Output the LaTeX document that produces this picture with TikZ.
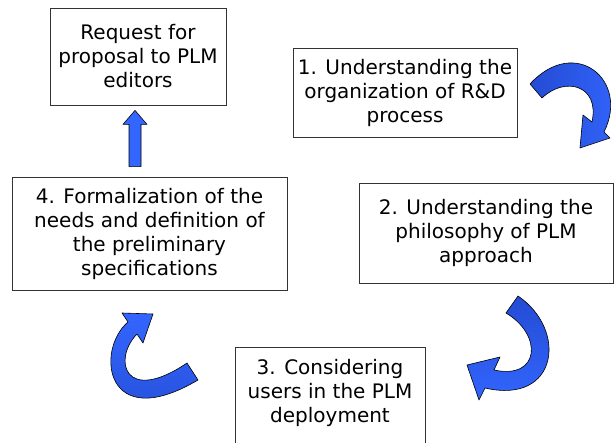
\documentclass[tikz,border=0pt]{standalone}
\usepackage{fontspec}
\newfontfamily\diagfont{DejaVu Sans}
\definecolor{arrowblue}{RGB}{51,102,255}
\definecolor{arrowdark}{RGB}{36,76,212}
\begin{document}
\begin{tikzpicture}[x=1pt,y=-1pt,
	box/.style={draw=black!80,line width=0.8pt,align=center,inner sep=0pt,
		font=\diagfont\fontsize{20}{24}\selectfont},
	bluearrow/.style={draw=black,line width=0.6pt,line join=round}]
	\useasboundingbox (0,0) rectangle (614,443);
	% the five boxes
	\node[box,minimum width=176,minimum height=97] (rfp) at (138,56.5)
		{Request for\\proposal to PLM\\editors};
	\node[box,minimum width=224,minimum height=89] (und) at (405,92.5)
		{1. Understanding the\\organization of R\&D\\process};
	\node[box,minimum width=254,minimum height=100] (phil) at (486,233)
		{2. Understanding the\\philosophy of PLM\\approach};
	\node[box,anchor=north,inner ysep=12pt] (cons) at (330,347)
		{\parbox[t][100pt][t]{190pt}{\centering 3. Considering\\users in the PLM\\deployment}};
	\node[box,minimum width=275,minimum height=113] (spec) at (149.5,233.5)
		{4. Formalization of the\\needs and definition of\\the preliminary\\specifications};
	% straight arrow up, from spec to rfp
	\coordinate (upbot) at ([shift={(-14.5,-10)}]spec.north);
	\coordinate (uptop) at ([shift={(-3,5)}]rfp.south);
	\draw[bluearrow,fill=arrowblue] ([shift={(-6,0)}]upbot)
		-- ([shift={(-6,14)}]uptop) -- ([shift={(-12,14)}]uptop) -- (uptop)
		-- ([shift={(12,14)}]uptop) -- ([shift={(6,14)}]uptop)
		-- ([shift={(6,0)}]upbot) -- cycle;
	% curved arrows
	\draw[bluearrow,left color=arrowdark,right color=arrowblue]
		(530,84) .. controls (575,35) and (630,80) .. (604,132) -- (610,138)
		-- (580,148) -- (583,115) -- (592,122)
		.. controls (600,85) and (565,76) .. (542,98) -- cycle;
	\draw[bluearrow,top color=arrowdark,bottom color=arrowblue]
		(518,296) .. controls (568,330) and (558,405) .. (485,388) -- (479,400)
		-- (467,365) -- (500,357) -- (494,370)
		.. controls (540,380) and (543,335) .. (506,313) -- cycle;
	\draw[bluearrow,top color=arrowblue,bottom color=arrowdark]
		(153,314) -- (143,343) -- (137,334)
		.. controls (112,360) and (125,405) .. (187,363) -- (198,380)
		.. controls (105,435) and (95,350) .. (128,322) -- (122,313) -- cycle;
\end{tikzpicture}
\end{document}
